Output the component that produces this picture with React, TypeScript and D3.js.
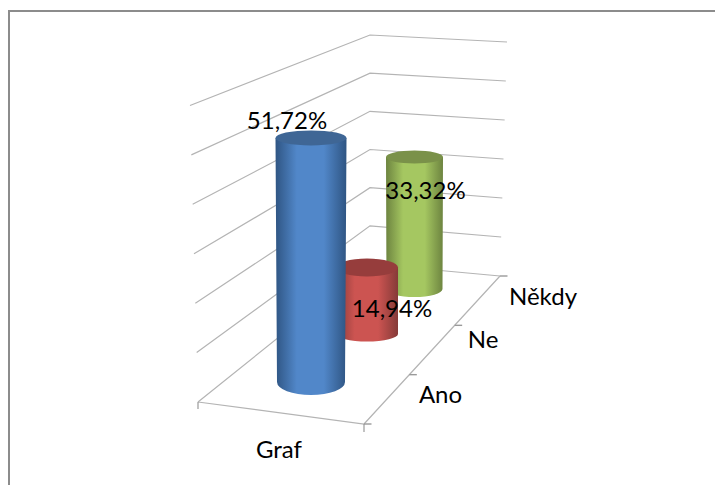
import React from "react";
import * as d3 from "d3";

const categories = ["Ano", "Ne", "Někdy"];
const seriesValues = [51.72, 14.94, 33.32];
const valueLabels = ["51,72%", "14,94%", "33,32%"];
const gridTicks = [10, 20, 30, 40, 50, 60];
const groupLabel = "Graf";
const topColors = ["#3f6695", "#963d3c", "#7a9149"];
const edgeColors = ["#2f5583", "#853a38", "#6d8440"];
const midColors = ["#5187c9", "#cc5451", "#a5c761"];
const depthTicks = [1 / 3, 2 / 3];

const depth = [0, 1, 2];
const cx = d3.scaleLinear<number>().domain(depth).range([311, 367, 414.5]);
const baseY = d3.scaleLinear<number>().domain(depth).range([382, 334, 289]);
const unit = d3.scaleLinear<number>().domain(depth).range([4.72, 4.45, 3.96]);
const rxTop = d3.scaleLinear<number>().domain(depth).range([35.5, 31, 28.5]);
const rxBase = d3.scaleLinear<number>().domain(depth).range([34, 31, 28]);
const ryTop = d3.scaleLinear<number>().domain(depth).range([7.5, 9, 6.5]);
const ryBase = d3.scaleLinear<number>().domain(depth).range([13, 7.5, 8]);

const leftY = d3.scaleLinear().domain([0, 60]).range([402, 105.5]);
const leftX = d3.scaleLinear().domain([0, 60]).range([198, 190]);
const backY = d3.scaleLinear().domain([0, 60]).range([264, 35]);
const rightY = d3.scaleLinear().domain([0, 60]).range([276, 42]);
const rightX = d3.scaleLinear().domain([0, 60]).range([500, 507]);
const backX = 370;

const floorX = d3.scaleLinear().domain([0, 1]).range([364, 500]);
const floorY = d3.scaleLinear().domain([0, 1]).range([424, 276]);

const line = d3.line();
const GRID = "#b4b4b4";
const TICK = "#9a9a9a";
const FONT = "Lato, Carlito, Calibri, sans-serif";

function cylinderPath(i: number, v: number) {
  const top = baseY(i) - v * unit(i);
  const c = cx(i);
  const rt = rxTop(i);
  const rb = rxBase(i);
  const b = baseY(i);
  return `M${c - rt},${top} L${c - rb},${b} A${rb},${ryBase(i)} 0 0 0 ${c + rb},${b} L${c + rt},${top} Z`;
}

export default function App() {
  const order = [2, 1, 0];
  return (
    <svg
      width={715}
      height={485}
      style={{ position: "absolute", left: 0, top: 0, background: "#fff" }}
    >
      <defs>
        {categories.map((_, i) => (
          <linearGradient key={i} id={`cyl${i}`} x1="0" x2="1" y1="0" y2="0">
            <stop offset="0" stopColor={edgeColors[i]} />
            <stop offset="0.3" stopColor={midColors[i]} />
            <stop offset="0.68" stopColor={midColors[i]} />
            <stop offset="1" stopColor={edgeColors[i]} />
          </linearGradient>
        ))}
      </defs>
      <path d={line([[9, 485], [9, 11], [715, 11]])!} fill="none" stroke="#8c8c8c" strokeWidth={2} />
      {gridTicks.map((t) => (
        <path
          key={t}
          d={line([
            [leftX(t), leftY(t)],
            [backX, backY(t)],
            [rightX(t), rightY(t)],
          ])!}
          fill="none"
          stroke={GRID}
          strokeWidth={1.2}
        />
      ))}
      <path
        d={line([
          [leftX(0), leftY(0)],
          [backX, backY(0)],
          [rightX(0), rightY(0)],
        ])!}
        fill="none"
        stroke={GRID}
        strokeWidth={1.2}
      />
      <path
        d={line([
          [leftX(0), leftY(0)],
          [floorX(0), floorY(0)],
          [floorX(1), floorY(1)],
        ])!}
        fill="none"
        stroke={GRID}
        strokeWidth={1.2}
      />
      <path d={line([[leftX(0), leftY(0)], [leftX(0), leftY(0) + 7]])!} stroke={TICK} strokeWidth={1.2} />
      <path d={line([[floorX(0), floorY(0)], [floorX(0), floorY(0) + 8]])!} stroke={TICK} strokeWidth={1.2} />
      {[0, ...depthTicks, 1].map((t) => (
        <path
          key={t}
          d={line([[floorX(t), floorY(t)], [floorX(t) + 7.5, floorY(t)]])!}
          stroke={TICK}
          strokeWidth={1.4}
        />
      ))}
      {order.map((i) => {
        const v = seriesValues[i];
        const top = baseY(i) - v * unit(i);
        return (
          <g key={i}>
            <path d={cylinderPath(i, v)} fill={`url(#cyl${i})`} />
            <ellipse cx={cx(i)} cy={top} rx={rxTop(i)} ry={ryTop(i)} fill={topColors[i]} />
          </g>
        );
      })}
      <g fontFamily={FONT} fontSize={24} fill="#000" textAnchor="middle">
        <text x={287} y={129}>{valueLabels[0]}</text>
        <text x={392} y={317}>{valueLabels[1]}</text>
        <text x={425.5} y={199}>{valueLabels[2]}</text>
        <text x={279} y={458}>{groupLabel}</text>
        <text x={440.5} y={403}>{categories[0]}</text>
        <text x={483} y={348}>{categories[1]}</text>
        <text x={543} y={305}>{categories[2]}</text>
      </g>
    </svg>
  );
}
